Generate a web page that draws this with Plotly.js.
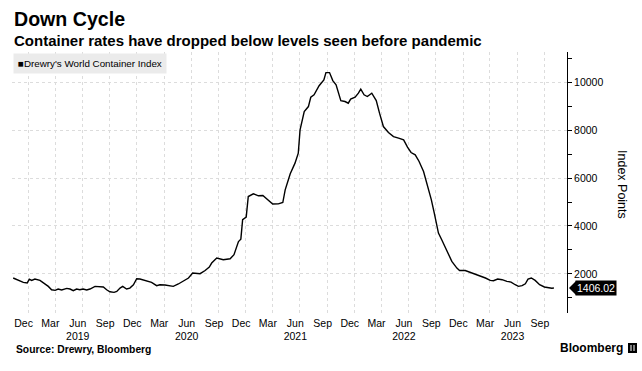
<!DOCTYPE html>
<html>
<head>
<meta charset="utf-8">
<script src="https://cdn.plot.ly/plotly-3.0.1.min.js"></script>
<style>html,body{margin:0;padding:0;background:#fff;}#chart{width:642px;height:371px;}</style>
</head>
<body>
<div id="chart"></div>
<script>
// Drewry's World Container Index (weekly)
const dates = [
"2018-11-11","2018-11-28","2018-12-15","2018-12-28","2019-01-04","2019-01-12","2019-01-23","2019-02-09","2019-02-20","2019-03-09",
"2019-03-20","2019-04-01","2019-04-11","2019-04-23","2019-05-10","2019-05-21","2019-06-01","2019-06-12","2019-06-23","2019-07-04",
"2019-07-16","2019-07-27","2019-08-13","2019-08-30","2019-09-10","2019-09-21","2019-10-02","2019-10-16","2019-10-25","2019-11-05",
"2019-11-14","2019-11-27","2019-12-08","2019-12-20","2019-12-31","2020-01-11","2020-01-28","2020-02-08","2020-02-19","2020-03-07",
"2020-03-18","2020-04-04","2020-04-21","2020-05-02","2020-05-19","2020-06-05","2020-06-22","2020-07-06","2020-07-20","2020-07-31",
"2020-08-17","2020-08-31","2020-09-08","2020-09-25","2020-10-17","2020-11-09","2020-11-22","2020-12-07","2020-12-15","2020-12-21",
"2021-01-02","2021-01-09","2021-01-26","2021-02-12","2021-02-27","2021-03-15","2021-04-01","2021-04-20","2021-05-05","2021-05-13",
"2021-05-30","2021-06-15","2021-06-26","2021-07-02","2021-07-16","2021-07-30","2021-08-07","2021-08-18","2021-09-04","2021-09-20",
"2021-09-27","2021-10-09","2021-10-20","2021-10-31","2021-11-08","2021-11-16","2021-11-30","2021-12-11","2021-12-19","2022-01-03",
"2022-01-14","2022-01-22","2022-02-02","2022-02-13","2022-02-28","2022-03-15","2022-03-26","2022-04-08","2022-04-25","2022-05-12",
"2022-05-29","2022-06-15","2022-06-28","2022-07-10","2022-07-24","2022-08-06","2022-08-21","2022-09-03","2022-09-16","2022-09-26",
"2022-10-10","2022-10-21","2022-11-07","2022-11-24","2022-12-11","2022-12-20","2023-01-08","2023-01-25","2023-02-11","2023-02-28",
"2023-03-17","2023-04-02","2023-04-13","2023-04-27","2023-05-12","2023-05-28","2023-06-11","2023-06-25","2023-07-06","2023-07-18",
"2023-07-29","2023-08-07","2023-08-18","2023-08-31","2023-09-15","2023-10-01","2023-10-15","2023-10-26","2023-11-02"
];
const wciValues = [
1825,1725,1640,1615,1780,1725,1780,1725,1640,1475,
1335,1310,1365,1325,1390,1365,1295,1365,1335,1365,
1325,1365,1475,1475,1450,1335,1250,1225,1265,1405,
1475,1365,1405,1545,1795,1785,1725,1690,1640,1505,
1545,1530,1505,1475,1575,1685,1825,2035,2005,2005,
2140,2285,2450,2660,2590,2630,2800,3350,3450,4260,
4370,5230,5345,5260,5275,5095,4915,4925,4980,5510,
6180,6625,7045,8015,8780,8990,9380,9480,9860,10100,
10410,10410,10075,9895,9575,9240,9200,9130,9300,9380,
9550,9715,9480,9410,9550,9240,8715,8155,7905,7735,
7670,7600,7295,7070,6975,6695,6275,5720,5100,4540,
3705,3425,3005,2520,2240,2140,2140,2060,2005,1920,
1825,1725,1710,1780,1755,1685,1655,1545,1475,1505,
1585,1780,1825,1725,1545,1450,1405,1400,1406.02
];
const seriesName = "Drewry's World Container Index";
const tickDates = [
"2018-12-16","2019-03-16","2019-06-16","2019-09-16","2019-12-16","2020-03-16","2020-06-16","2020-09-16",
"2020-12-16","2021-03-16","2021-06-16","2021-09-16","2021-12-16","2022-03-16","2022-06-16","2022-09-16",
"2022-12-16","2023-03-16","2023-06-16","2023-09-16"
];
const tickLabels = [
"Dec","Mar","Jun<br>2019","Sep","Dec","Mar","Jun<br>2020","Sep",
"Dec","Mar","Jun<br>2021","Sep","Dec","Mar","Jun<br>2022","Sep",
"Dec","Mar","Jun<br>2023","Sep"
];
const yTicks = [2000,4000,6000,8000,10000];
const yTickText = ["2000","4000","6000","8000","10000"];

const FONT = "Liberation Sans, Arial, sans-serif";
const lastVal = wciValues[wciValues.length-1];

const L=12, R=75, T=52, B=58, W=642, H=371;
const pw = W-L-R, ph = H-T-B;
const px = x => (x-L)/pw;
const py = y => (H-B-y)/ph;

const trace = {
  x: dates, y: wciValues, type: 'scatter', mode: 'lines',
  line: {color: '#000', width: 1.4}, name: seriesName, showlegend: false, hoverinfo: 'x+y'
};

const layout = {
  width: W, height: H,
  margin: {l: L, r: R, t: T, b: B},
  paper_bgcolor: '#fff', plot_bgcolor: '#fff',
  font: {family: FONT, color: '#000', size: 10},
  showlegend: false,
  xaxis: {
    type: 'date', range: ['2018-11-07', '2023-12-16'],
    tickmode: 'array', tickvals: tickDates, ticktext: tickLabels,
    ticks: '', showgrid: false, zeroline: false, showline: false,
    tickfont: {size: 10.5, family: FONT, color: '#000'},
    ticklabelstandoff: 2,
    minor: {tick0: '2019-01-01', dtick: 'M3', showgrid: true, gridcolor: '#dcdcdc', gridwidth: 1, griddash: 'dot', ticks: ''}
  },
  yaxis: {
    side: 'right', range: [363, 11270],
    tickmode: 'array', tickvals: yTicks, ticktext: yTickText,
    showgrid: true, gridcolor: '#dcdcdc', gridwidth: 1, griddash: 'dot',
    showline: true, linecolor: '#000', linewidth: 1,
    ticks: 'outside', ticklen: 4, tickcolor: '#000', tickwidth: 1,
    minor: {dtick: 1000, ticks: 'outside', ticklen: 4, tickcolor: '#000', showgrid: false},
    zeroline: false,
    tickfont: {size: 10.5, family: FONT, color: '#000'}
  },
  annotations: [
    {text: '<b>Down Cycle</b>', xref: 'paper', yref: 'paper', x: px(12), y: py(19), xanchor: 'left', yanchor: 'middle', showarrow: false, font: {size: 19.6, family: FONT, color: '#000'}},
    {text: '<b>Container rates have dropped below levels seen before pandemic</b>', xref: 'paper', yref: 'paper', x: px(12), y: py(40), xanchor: 'left', yanchor: 'middle', showarrow: false, font: {size: 15, family: FONT, color: '#000'}},
    {text: '■' + seriesName, xref: 'paper', yref: 'paper', x: px(13), y: py(63), xanchor: 'left', yanchor: 'middle', showarrow: false, bgcolor: '#ebebeb', borderpad: 4, font: {size: 9.8, family: FONT, color: '#000'}},
    {text: 'Index Points', xref: 'paper', yref: 'paper', x: px(622), y: py(184), xanchor: 'center', yanchor: 'middle', textangle: 90, showarrow: false, font: {size: 12.5, family: FONT, color: '#000'}},
    {text: lastVal.toFixed(2), xref: 'paper', yref: 'y', x: 1, y: lastVal, xanchor: 'left', yanchor: 'middle', xshift: 8, showarrow: false, bgcolor: '#000', borderpad: 1, font: {size: 10.5, family: FONT, color: '#fff'}},
    {text: '<b>Source: Drewry, Bloomberg</b>', xref: 'paper', yref: 'paper', x: px(14), y: py(349), xanchor: 'left', yanchor: 'middle', showarrow: false, font: {size: 10.3, family: FONT, color: '#000'}},
    {text: '<b>Bloomberg</b>', xref: 'paper', yref: 'paper', x: px(625), y: py(348), xanchor: 'right', yanchor: 'middle', showarrow: false, font: {size: 12, family: FONT, color: '#000'}}
  ],
  shapes: [
    {type: 'path', xref: 'paper', yref: 'y', xsizemode: 'pixel', ysizemode: 'pixel', xanchor: 1, yanchor: lastVal,
     path: 'M 2 0 L 9 7 L 9 -7 Z', fillcolor: '#000', line: {width: 0}},
    {type: 'rect', xref: 'paper', yref: 'paper', x0: px(628), x1: px(637), y0: py(353), y1: py(343), fillcolor: '#000', line: {width: 0}},
    {type: 'line', xref: 'paper', yref: 'paper', x0: px(631), x1: px(631), y0: py(351), y1: py(345), line: {color: '#fff', width: 1}},
    {type: 'line', xref: 'paper', yref: 'paper', x0: px(634), x1: px(634), y0: py(351), y1: py(345), line: {color: '#fff', width: 1}}
  ]
};

Plotly.newPlot('chart', [trace], layout, {staticPlot: true, displayModeBar: false});
</script>
</body>
</html>
